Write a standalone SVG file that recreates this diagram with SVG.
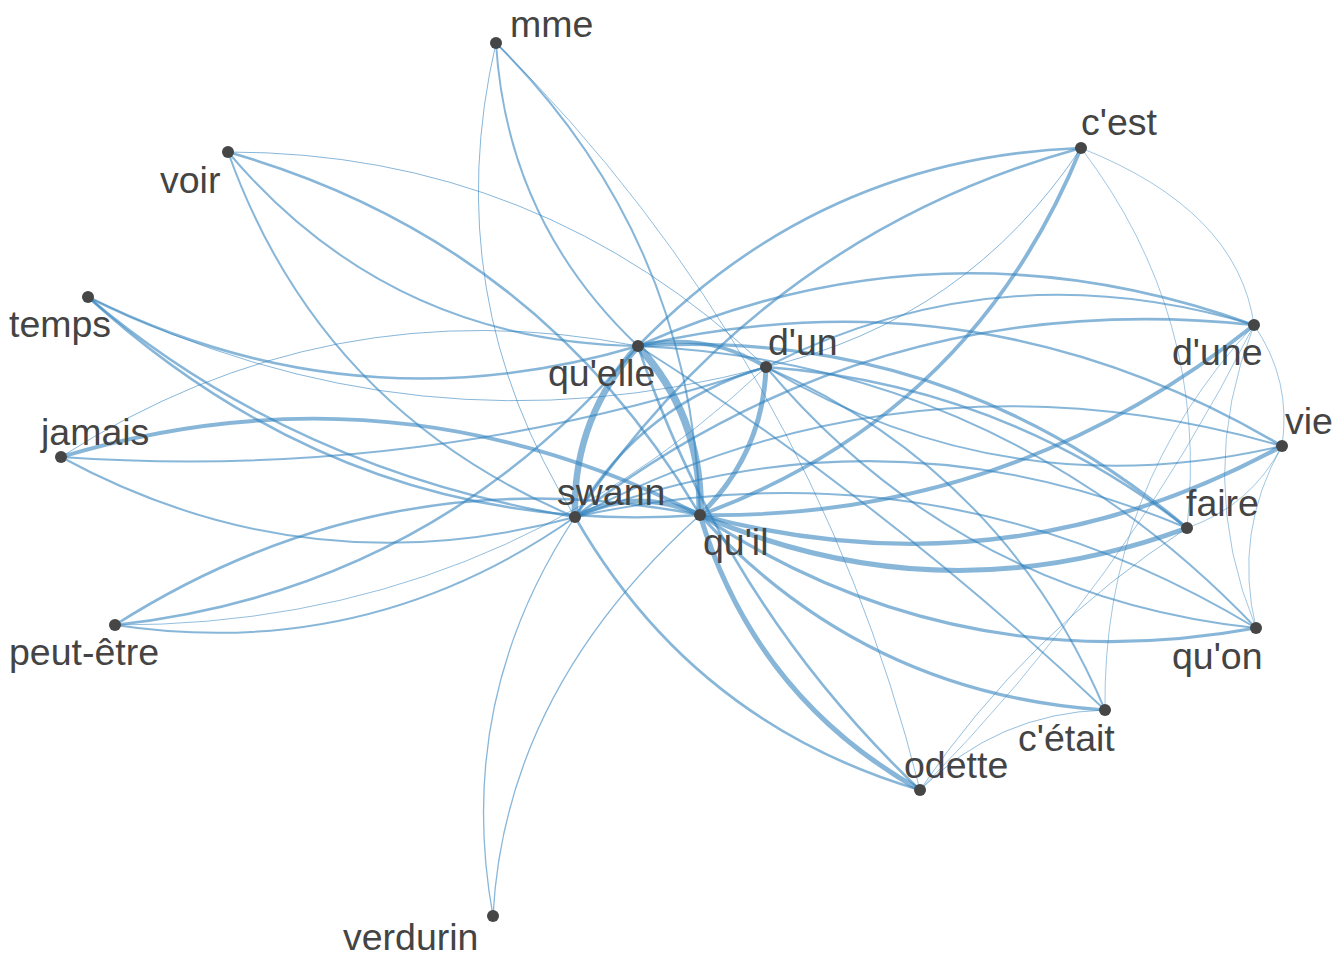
<svg xmlns="http://www.w3.org/2000/svg" width="1344" height="960" viewBox="0 0 1344 960">
<style>
.e{fill:none;stroke:#3182bd;stroke-opacity:0.58;stroke-linecap:round}
.n circle{fill:#464646}
.n text{font-family:"Liberation Sans",Arial,sans-serif;font-size:37.5px;fill:#444444}
</style>
<rect width="1344" height="960" fill="#ffffff"/>
<g id="connectors">
<path class="e" stroke-width="1" d="M496 43 Q437 296 575 517"/>
<path class="e" stroke-width="2" d="M496 43 Q507 222 638 346"/>
<path class="e" stroke-width="2" d="M496 43 Q692 238 700 515"/>
<path class="e" stroke-width="0.9" d="M496 43 Q812 357 920 790"/>
<path class="e" stroke-width="1" d="M228 152 Q540 152 766 367"/>
<path class="e" stroke-width="2.6" d="M228 152 Q538 240 700 515"/>
<path class="e" stroke-width="2" d="M228 152 Q388 342 638 346"/>
<path class="e" stroke-width="2" d="M228 152 Q320 410 575 517"/>
<path class="e" stroke-width="2.6" d="M88 297 Q355 430 638 346"/>
<path class="e" stroke-width="1" d="M88 297 Q418 460 766 367"/>
<path class="e" stroke-width="2.4" d="M88 297 Q292 470 575 517"/>
<path class="e" stroke-width="2.4" d="M88 297 Q355 540 700 515"/>
<path class="e" stroke-width="3.8" d="M61 457 Q392 358 700 515"/>
<path class="e" stroke-width="1" d="M61 457 Q327 286 638 346"/>
<path class="e" stroke-width="2" d="M61 457 Q422 482 766 367"/>
<path class="e" stroke-width="2" d="M61 457 Q306 590 575 517"/>
<path class="e" stroke-width="2.6" d="M115 625 Q386 453 700 515"/>
<path class="e" stroke-width="2.6" d="M115 625 Q432 590 638 346"/>
<path class="e" stroke-width="0.9" d="M115 625 Q492 626 766 367"/>
<path class="e" stroke-width="2" d="M115 625 Q367 663 575 517"/>
<path class="e" stroke-width="1.3" d="M493 916 Q454 700 575 517"/>
<path class="e" stroke-width="1.3" d="M493 916 Q505 690 700 515"/>
<path class="e" stroke-width="5" d="M575 517 Q637 486 700 515"/>
<path class="e" stroke-width="6.5" d="M575 517 Q572 419 638 346"/>
<path class="e" stroke-width="7.5" d="M638 346 Q703 418 700 515"/>
<path class="e" stroke-width="5" d="M700 515 Q763 454 766 367"/>
<path class="e" stroke-width="3.8" d="M638 346 Q706 331 766 367"/>
<path class="e" stroke-width="2.6" d="M575 517 Q640 404 766 367"/>
<path class="e" stroke-width="2.6" d="M638 346 Q820 158 1081 148"/>
<path class="e" stroke-width="2.6" d="M575 517 Q765 235 1081 148"/>
<path class="e" stroke-width="3.8" d="M700 515 Q972 416 1081 148"/>
<path class="e" stroke-width="1" d="M766 367 Q967 320 1081 148"/>
<path class="e" stroke-width="0.8" d="M1081 148 Q1210 317 1187 528"/>
<path class="e" stroke-width="0.8" d="M1081 148 Q1238 210 1254 325"/>
<path class="e" stroke-width="2.6" d="M638 346 Q942 212 1254 325"/>
<path class="e" stroke-width="2" d="M766 367 Q1002 248 1254 325"/>
<path class="e" stroke-width="2.6" d="M575 517 Q876 285 1254 325"/>
<path class="e" stroke-width="3.8" d="M700 515 Q1010 520 1254 325"/>
<path class="e" stroke-width="0.8" d="M1254 325 Q1292 380 1282 446"/>
<path class="e" stroke-width="0.8" d="M1254 325 Q1194 477 1256 628"/>
<path class="e" stroke-width="0.8" d="M1254 325 Q1102 488 1105 710"/>
<path class="e" stroke-width="0.8" d="M920 790 Q1124 584 1254 325"/>
<path class="e" stroke-width="4.4" d="M700 515 Q1005 597 1282 446"/>
<path class="e" stroke-width="2.6" d="M638 346 Q980 267 1282 446"/>
<path class="e" stroke-width="2" d="M575 517 Q914 340 1282 446"/>
<path class="e" stroke-width="2" d="M766 367 Q1008 510 1282 446"/>
<path class="e" stroke-width="0.8" d="M1187 528 Q1251 506 1282 446"/>
<path class="e" stroke-width="0.8" d="M1282 446 Q1233 532 1256 628"/>
<path class="e" stroke-width="5" d="M700 515 Q941 619 1187 528"/>
<path class="e" stroke-width="3.2" d="M638 346 Q949 327 1187 528"/>
<path class="e" stroke-width="2" d="M575 517 Q883 400 1187 528"/>
<path class="e" stroke-width="2.6" d="M766 367 Q1001 384 1187 528"/>
<path class="e" stroke-width="3.2" d="M700 515 Q955 683 1256 628"/>
<path class="e" stroke-width="2" d="M575 517 Q938 436 1256 628"/>
<path class="e" stroke-width="2" d="M638 346 Q1003 363 1256 628"/>
<path class="e" stroke-width="2" d="M766 367 Q959 596 1256 628"/>
<path class="e" stroke-width="3.2" d="M700 515 Q864 694 1105 710"/>
<path class="e" stroke-width="2" d="M638 346 Q890 505 1105 710"/>
<path class="e" stroke-width="2" d="M766 367 Q1004 471 1105 710"/>
<path class="e" stroke-width="5" d="M700 515 Q755 697 920 790"/>
<path class="e" stroke-width="2.6" d="M638 346 Q725 605 920 790"/>
<path class="e" stroke-width="2.6" d="M575 517 Q693 723 920 790"/>
<path class="e" stroke-width="0.9" d="M920 790 Q997 713 1105 710"/>
<path class="e" stroke-width="0.9" d="M920 790 Q1027 632 1187 528"/>
</g>
<g id="node-mme" class="n"><circle cx="496" cy="43" r="6"/><text x="510" y="37">mme</text></g>
<g id="node-voir" class="n"><circle cx="228" cy="152" r="6"/><text x="160" y="193">voir</text></g>
<g id="node-cest" class="n"><circle cx="1081" cy="148" r="6"/><text x="1081" y="135">c'est</text></g>
<g id="node-temps" class="n"><circle cx="88" cy="297" r="6"/><text x="9" y="337">temps</text></g>
<g id="node-dune" class="n"><circle cx="1254" cy="325" r="6"/><text x="1172" y="365">d'une</text></g>
<g id="node-quelle" class="n"><circle cx="638" cy="346" r="6"/><text x="548" y="386">qu'elle</text></g>
<g id="node-dun" class="n"><circle cx="766" cy="367" r="6"/><text x="768" y="355">d'un</text></g>
<g id="node-jamais" class="n"><circle cx="61" cy="457" r="6"/><text x="41" y="445">jamais</text></g>
<g id="node-vie" class="n"><circle cx="1282" cy="446" r="6"/><text x="1285" y="434">vie</text></g>
<g id="node-swann" class="n"><circle cx="575" cy="517" r="6"/><text x="557" y="505">swann</text></g>
<g id="node-quil" class="n"><circle cx="700" cy="515" r="6"/><text x="703" y="555">qu'il</text></g>
<g id="node-faire" class="n"><circle cx="1187" cy="528" r="6"/><text x="1186" y="516">faire</text></g>
<g id="node-peutetre" class="n"><circle cx="115" cy="625" r="6"/><text x="9" y="665">peut-être</text></g>
<g id="node-quon" class="n"><circle cx="1256" cy="628" r="6"/><text x="1172" y="669">qu'on</text></g>
<g id="node-cetait" class="n"><circle cx="1105" cy="710" r="6"/><text x="1018" y="751">c'était</text></g>
<g id="node-odette" class="n"><circle cx="920" cy="790" r="6"/><text x="904" y="778">odette</text></g>
<g id="node-verdurin" class="n"><circle cx="493" cy="916" r="6"/><text x="343" y="950">verdurin</text></g>
</svg>
